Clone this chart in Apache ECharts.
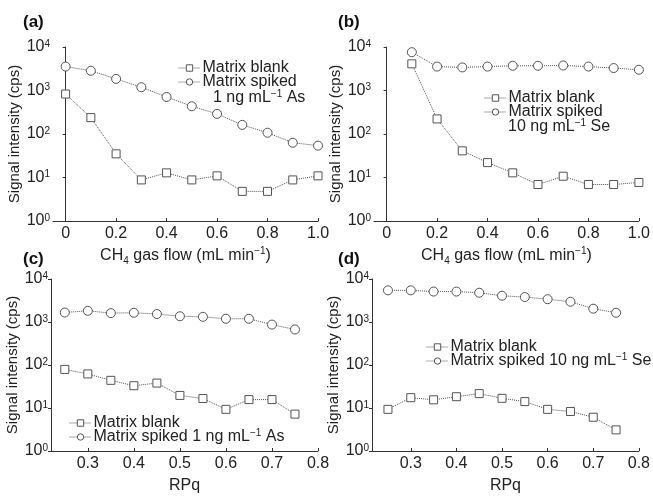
<!DOCTYPE html>
<html>
<head>
<meta charset="utf-8">
<script src="https://cdn.jsdelivr.net/npm/echarts@6/dist/echarts.min.js"></script>
<style>
  html, body { margin: 0; padding: 0; background: #fff; }
  #chart { width: 653px; height: 497px; }
</style>
</head>
<body>
<div id="chart"></div>
<script>
// x values
const flowX = [0, 0.1, 0.2, 0.3, 0.4, 0.5, 0.6, 0.7, 0.8, 0.9, 1.0];
const flowXb = [0.1, 0.2, 0.3, 0.4, 0.5, 0.6, 0.7, 0.8, 0.9, 1.0];
const rpqX = [0.25, 0.3, 0.35, 0.4, 0.45, 0.5, 0.55, 0.6, 0.65, 0.7, 0.75];

// (a) As vs CH4 flow
const aBlank = [830, 238, 35, 8.8, 12.8, 8.8, 10.9, 4.8, 4.8, 8.8, 10.9];
const aSpiked = [3550, 2840, 1850, 1190, 710, 435, 290, 162, 107, 63, 54];
// (b) Se vs CH4 flow
const bBlank = [4100, 222, 41, 22, 12.8, 6.9, 10.7, 6.9, 6.9, 7.7];
const bSpiked = [7600, 3550, 3390, 3550, 3700, 3700, 3760, 3550, 3280, 3000];
// (c) As vs RPq
const cBlank = [79, 62, 44, 33, 38, 19.6, 16.6, 9.3, 15.7, 15.7, 7.2];
const cSpiked = [1660, 1820, 1610, 1640, 1530, 1360, 1320, 1190, 1190, 870, 670];
// (d) Se vs RPq
const dBlank = [9.3, 17.4, 15.5, 18.3, 21.6, 16.8, 14.1, 9.3, 8.3, 6.1, 3.1];
const dSpiked = [5440, 5440, 5100, 5100, 4790, 4080, 3800, 3390, 2960, 2040, 1640];

const flowTicks = [0, 0.2, 0.4, 0.6, 0.8, 1.0];
const rpqTicks = [0.3, 0.4, 0.5, 0.6, 0.7, 0.8];

const FONT = 'Liberation Sans, Arial, sans-serif';
const rich = {
  sup: { fontSize: 10, verticalAlign: 'top', lineHeight: 8, fontFamily: FONT, color: '#222' },
  sub: { fontSize: 10, verticalAlign: 'bottom', lineHeight: 8, fontFamily: FONT, color: '#222' }
};

const chart = echarts.init(document.getElementById('chart'));

const grids = [
  { left: 53, right: 335, top: 47, bottom: 276 },
  { left: 374, right: 12, top: 47, bottom: 276 },
  { left: 51, right: 335, top: 279, bottom: 36 },
  { left: 372, right: 12, top: 279, bottom: 36 }
];

function makeX(i, min, max, ticks, name) {
  return {
    type: 'value', gridIndex: i, min: min, max: max,
    name: name, nameLocation: 'middle', nameGap: 25,
    nameTextStyle: { fontSize: 16, lineHeight: 20, fontFamily: FONT, color: '#222', rich: rich },
    axisLine: { lineStyle: { color: '#333', width: 1 } },
    axisTick: { show: true, inside: true, length: 3, customValues: ticks, lineStyle: { color: '#333' } },
    axisLabel: {
      customValues: ticks, fontSize: 16, fontFamily: FONT, color: '#222', margin: 5,
      formatter: v => (v === 0 ? '0' : v.toFixed(1))
    },
    splitLine: { show: false }
  };
}

function makeY(i) {
  return {
    type: 'log', logBase: 10, gridIndex: i, min: 1, max: 10000,
    name: 'Signal intensity (cps)', nameLocation: 'middle', nameRotate: 90, nameGap: 27,
    nameTextStyle: { fontSize: 15, fontFamily: FONT, color: '#222' },
    axisLine: { show: true, lineStyle: { color: '#333', width: 1 } },
    axisTick: { show: true, length: 3, lineStyle: { color: '#333' } },
    axisLabel: {
      fontSize: 16, fontFamily: FONT, color: '#222', margin: 3,
      formatter: v => '10{sup|' + Math.round(Math.log10(v)) + '}',
      rich: rich
    },
    splitLine: { show: false },
    minorTick: { show: false }
  };
}

const flowName = 'CH{sub|4} gas flow (mL min{sup|−1})';

function pairs(xs, ys) {
  return xs.map((x, k) => [x, ys[k]]);
}

function makeSeries(i, name, symbol, xs, ys) {
  return {
    type: 'line', name: name, xAxisIndex: i, yAxisIndex: i,
    data: pairs(xs, ys), symbol: symbol, symbolSize: symbol === 'circle' ? 9 : 8,
    showAllSymbol: true,
    lineStyle: { color: '#555', width: 1, type: 'dotted' },
    itemStyle: { color: '#fff', borderColor: '#555', borderWidth: 1 },
    emphasis: { disabled: true },
    z: 3
  };
}

function makeLegend(left, top, spikedText) {
  return {
    orient: 'vertical', left: left, top: top,
    itemWidth: 22, itemHeight: 8, itemGap: -4, padding: 0,
    data: ['Matrix blank', 'Matrix spiked'],
    selectedMode: false,
    itemStyle: { color: '#fff', borderColor: '#555', borderWidth: 1 },
    lineStyle: { color: '#555', width: 1, type: 'dotted' },
    textStyle: { fontSize: 16, fontFamily: FONT, color: '#222', lineHeight: 18, padding: [0, 0, 0, -3], rich: rich },
    formatter: name => (name === 'Matrix spiked' ? spikedText : name)
  };
}

const option = {
  animation: false,
  backgroundColor: '#fff',
  title: [
    { text: '(a)', left: 23, top: 14 },
    { text: '(b)', left: 338, top: 14 },
    { text: '(c)', left: 23, top: 251 },
    { text: '(d)', left: 338, top: 251 }
  ].map(t => Object.assign(t, { padding: 0, textStyle: { fontSize: 17, fontWeight: 'bold', fontFamily: FONT, color: '#111' } })),
  grid: grids,
  xAxis: [
    makeX(0, -0.05, 1.0, flowTicks, flowName),
    makeX(1, -0.05, 1.0, flowTicks, flowName),
    makeX(2, 0.22, 0.8, rpqTicks, 'RPq'),
    makeX(3, 0.215, 0.8, rpqTicks, 'RPq')
  ],
  yAxis: [makeY(0), makeY(1), makeY(2), makeY(3)],
  legend: [
    makeLegend(178, 59, 'Matrix spiked'),
    makeLegend(484, 89, 'Matrix spiked'),
    makeLegend(69, 414, 'Matrix spiked 1 ng mL{sup|−1} As'),
    makeLegend(426, 338, 'Matrix spiked 10 ng mL{sup|−1} Se')
  ],
  graphic: [
    { type: 'text', left: 213, top: 89, style: { text: '1 ng mL{sup|−1} As', font: '16px ' + FONT, fill: '#222', lineHeight: 18, rich: rich } },
    { type: 'text', left: 508, top: 118, style: { text: '10 ng mL{sup|−1} Se', font: '16px ' + FONT, fill: '#222', lineHeight: 18, rich: rich } }
  ],
  series: [
    makeSeries(0, 'Matrix blank', 'rect', flowX, aBlank),
    makeSeries(0, 'Matrix spiked', 'circle', flowX, aSpiked),
    makeSeries(1, 'Matrix blank', 'rect', flowXb, bBlank),
    makeSeries(1, 'Matrix spiked', 'circle', flowXb, bSpiked),
    makeSeries(2, 'Matrix blank', 'rect', rpqX, cBlank),
    makeSeries(2, 'Matrix spiked', 'circle', rpqX, cSpiked),
    makeSeries(3, 'Matrix blank', 'rect', rpqX, dBlank),
    makeSeries(3, 'Matrix spiked', 'circle', rpqX, dSpiked)
  ]
};

chart.setOption(option);
</script>
</body>
</html>
